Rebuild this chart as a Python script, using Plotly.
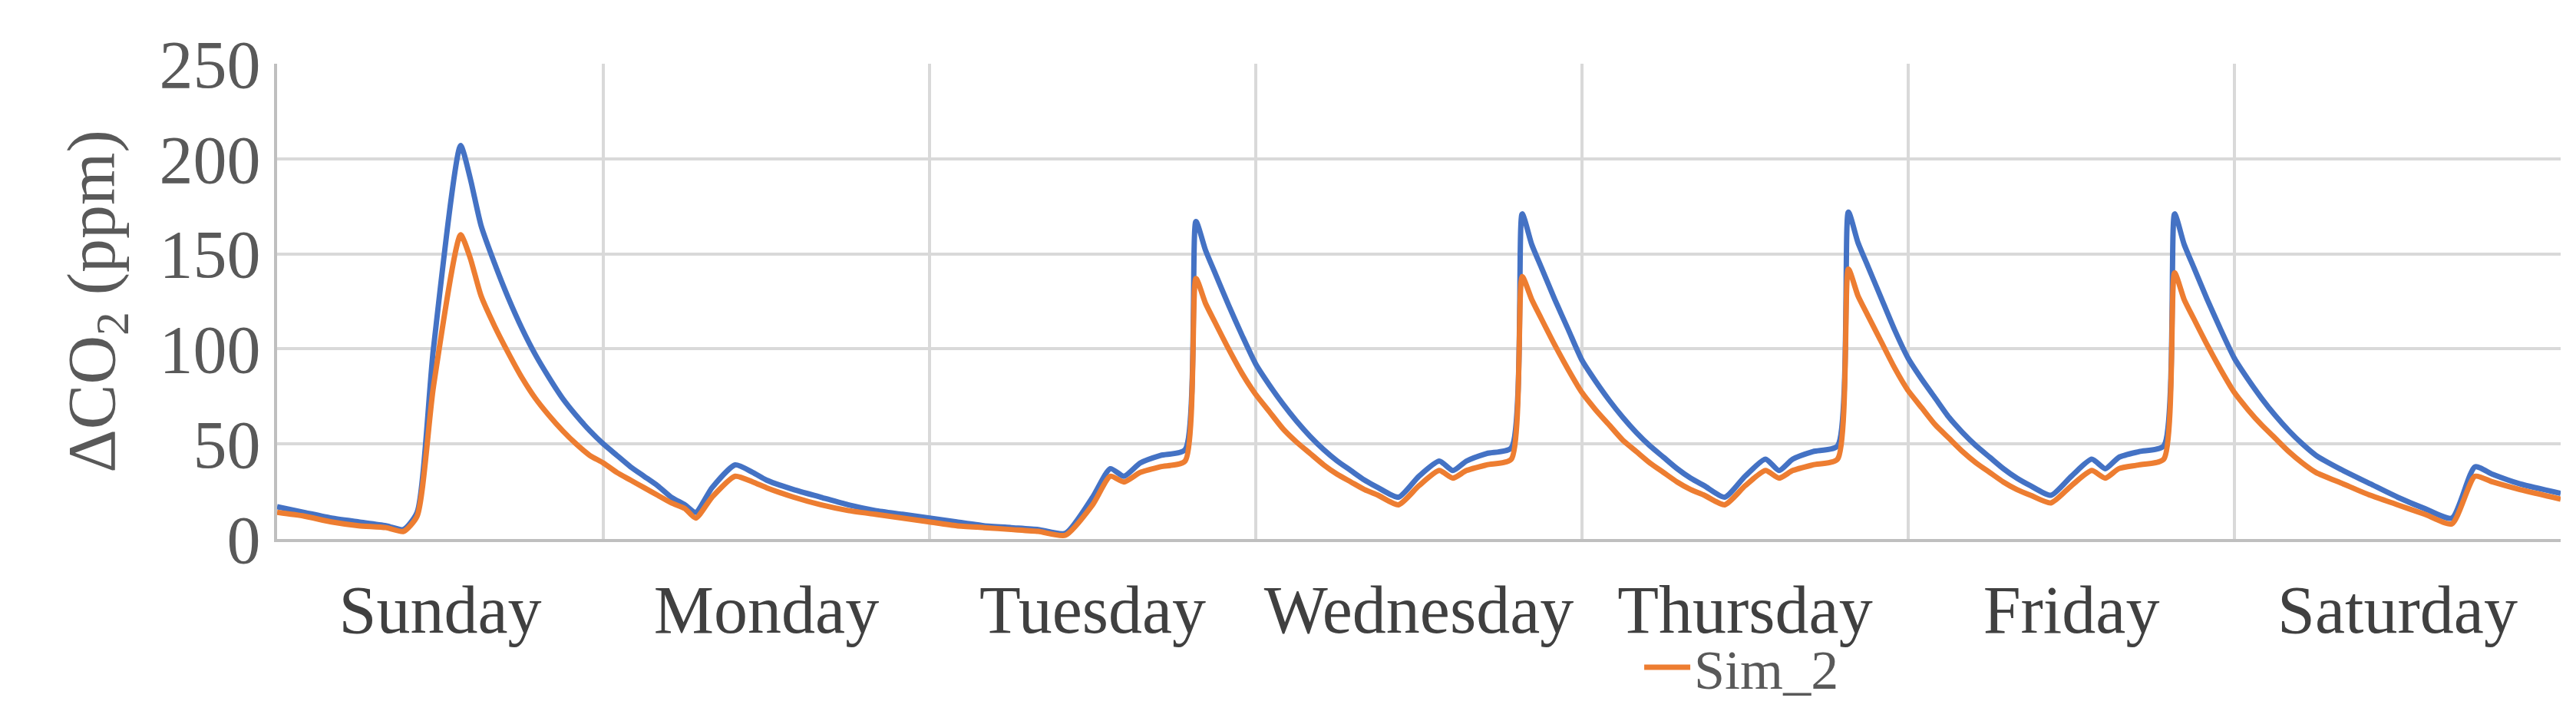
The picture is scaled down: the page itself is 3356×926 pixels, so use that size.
import plotly.graph_objects as go

days = ["Sunday", "Monday", "Tuesday", "Wednesday", "Thursday", "Friday", "Saturday"]
hours = [0,2,4,6,8,9.3,10.3,11.5,13.5,14.2,15,16,17,18,19,20,21,22,23,24,25,26,27,28,29,30,30.8,32,33.7,35,36,38,40,42,44,46,48,50,52,54,56,58,
         60,61.3,62.3,63.5,65,66.8,67.6,68.3,69,70,71,72,73,74,75,76,77,78,79,80,81,82.5,
         84,85.5,86.5,87.5,89,90.8,91.6,92.3,93,94,95,96,97,98,99,100,101,102,103,104,105,106.5,
         108,109.5,110.5,111.5,113,114.8,115.6,116.3,117,118,119,120,121,122,123,124,125,126,127,128,129,130.5,
         132,133.5,134.5,135.5,137,138.8,139.6,140.3,141,142,143,144,145,146,147,148,149,150,152,154,156,158,160,161.7,163,165,168]
sim_02 = [17,14,11,9,7,5,14,100,207,190,165,145,127,111,97,85,74,65,57,50,44,38,33,28,22,18,14,27,39,35,31,26,22,18,15,13,11,9,7,6,5,3,
          22,37,33,40,44,47,167,152,140,123,107,92,81,71,62,54,47,41,36,31,27,22,
          33,41,36,41,45,48,171,155,143,126,110,94,83,73,64,56,49,43,37,32,28,22,
          33,42,36,42,46,49,172,156,144,127,110,95,84,74,64,56,49,43,37,32,28,23,
          33,42,37,43,46,49,171,155,143,126,110,95,84,74,65,57,50,44,36,29,22,16,11,38,34,29,24]
sim_2 = [14,12,9,7,6,4,12,80,160,148,128,112,98,85,74,65,57,50,44,40,35,31,27,23,19,16,11,22,33,30,27,22,18,15,13,11,9,7,6,5,4,2,
         18,33,30,35,38,41,137,124,114,100,87,76,67,58,51,45,39,34,30,26,23,18,
         28,36,32,36,39,42,138,126,116,102,89,77,68,60,52,46,40,35,30,26,23,18,
         28,36,32,36,39,42,142,128,118,104,90,78,69,60,53,46,40,35,30,26,23,19,
         28,36,32,37,39,42,140,126,116,102,89,77,68,60,53,46,40,35,29,23,18,13,8,33,30,26,21]

fig = go.Figure()
fig.add_trace(go.Scatter(x=hours, y=sim_02, name="Sim_02", mode="lines", legend="legend",
                         line=dict(color="#4472C4", width=7, shape="spline", smoothing=0.6)))
fig.add_trace(go.Scatter(x=hours, y=sim_2, name="Sim_2", mode="lines", legend="legend2",
                         line=dict(color="#ED7D31", width=7, shape="spline", smoothing=0.6)))

font = "Liberation Serif, Times New Roman, serif"
leg = dict(orientation="h", xanchor="left", y=-0.27, yanchor="middle", bgcolor="rgba(0,0,0,0)",
           font=dict(size=72, color="#595959"), itemwidth=60)
fig.update_layout(
    width=3356, height=926, plot_bgcolor="white", paper_bgcolor="white",
    margin=dict(l=353, r=28, t=75, b=223),
    font=dict(family=font, size=88, color="#595959"),
    legend=dict(leg, x=0.145),
    legend2=dict(leg, x=0.597),
    xaxis=dict(range=[0, 168], tickvals=[12 + 24 * i for i in range(7)], ticktext=days,
               showgrid=False, ticks="", tickfont=dict(size=88, color="#404040"),
               ticklabelstandoff=12,
               showline=True, linecolor="#bfbfbf", linewidth=4,
               minor=dict(tickvals=[24 * i for i in range(1, 7)], showgrid=True,
                          gridcolor="#d9d9d9", gridwidth=4, ticks=""),
               zeroline=False),
    yaxis=dict(range=[0, 250], dtick=50, gridcolor="#d9d9d9", gridwidth=4,
               showline=True, linecolor="#bfbfbf", linewidth=4, zeroline=False,
               ticks="outside", ticklen=0, tickcolor="white",
               title=dict(text="ΔCO<sub>2</sub> (ppm)", font=dict(size=88, color="#595959"), standoff=30)),
)
fig.write_html("out.html")
